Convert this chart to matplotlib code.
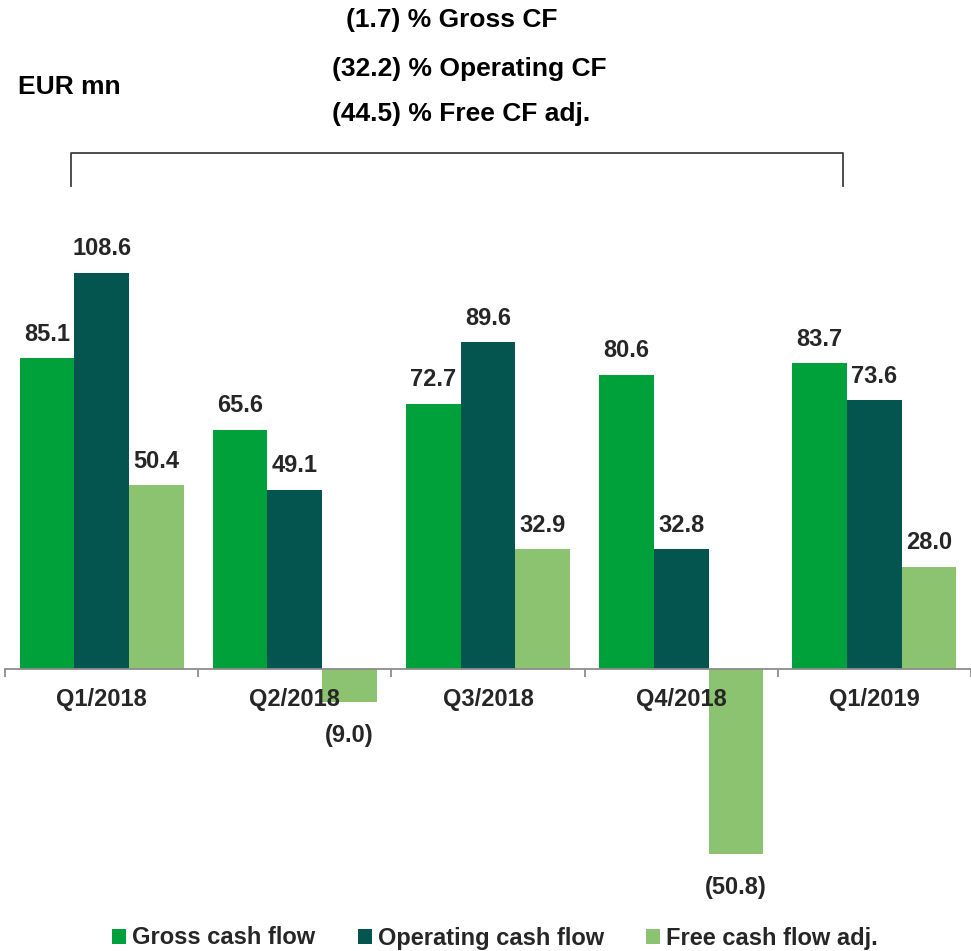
import matplotlib.pyplot as plt
import numpy as np

# ------------------------------------------------------------------
#  DATA
# ------------------------------------------------------------------
quarters   = ['Q1/2018', 'Q2/2018', 'Q3/2018', 'Q4/2018', 'Q1/2019']
gross_cf   = [85.1, 65.6, 72.7, 80.6, 83.7]
operating  = [108.6, 49.1, 89.6, 32.8, 73.6]
free_cf    = [50.4, -9.0, 32.9, -50.8, 28.0]
series     = ['Gross cash flow', 'Operating cash flow', 'Free cash flow adj.']
change_txt = ['(1.7) % Gross CF', '(32.2) % Operating CF', '(44.5) % Free CF adj.']

colors     = ['#00A03B', '#04544F', '#8BC371']
text_color = '#262626'

plt.rcParams['font.family'] = ['Liberation Sans', 'DejaVu Sans']
plt.rcParams['font.weight'] = 'bold'
fs = 17
fs_head = 19

W, H = 971, 951
fig = plt.figure(figsize=(W / 100, H / 100), dpi=100)

# axes placed in pixel terms: baseline at y=669, 3.65 px per unit
px_per_unit = 3.65
ax_top, ax_bot = 180, 900
ax_left, ax_right = 5, 971
ax = fig.add_axes([ax_left / W, 1 - ax_bot / H, (ax_right - ax_left) / W, (ax_bot - ax_top) / H])
ax.set_ylim(-(ax_bot - 669) / px_per_unit, (669 - ax_top) / px_per_unit)
ax.set_xlim(-0.5, -0.5 + (ax_right - ax_left) / 195.3)

x = np.arange(len(quarters))
bw = 0.283
for k, vals in enumerate([gross_cf, operating, free_cf]):
    pos = x + (k - 1) * bw
    ax.bar(pos, vals, width=bw, color=colors[k], label=series[k], zorder=1)
    for p, v in zip(pos, vals):
        if v >= 0:
            ax.text(p, v + 3.4, f'{v:.1f}', ha='center', va='bottom', fontsize=fs,
                    color=text_color, fontweight='bold', zorder=4)
        else:
            ax.text(p, v - 6, f'({abs(v):.1f})', ha='center', va='top', fontsize=fs,
                    color=text_color, fontweight='bold', zorder=4)

# axis styling
for s in ['left', 'right', 'top']:
    ax.spines[s].set_visible(False)
ax.spines['bottom'].set_position(('data', 0))
ax.spines['bottom'].set_color('#8c8c8c')
ax.spines['bottom'].set_linewidth(1.3)
ax.set_yticks([])
ax.set_xticks(x)
ax.set_xticklabels(quarters, fontsize=fs, color=text_color, fontweight='bold')
ax.tick_params(axis='x', which='major', length=0, pad=14)
ax.set_xticks(np.arange(-0.5, len(quarters) + 0.5, 1.0), minor=True)
ax.tick_params(axis='x', which='minor', length=6, width=1.3, color='#8c8c8c', direction='out')

# header texts
fig.text(18 / W, 1 - 87 / H, 'EUR mn', fontsize=fs_head, color='black', fontweight='bold',
         ha='left', va='center')
for txt, xc, yc in zip(change_txt, [452, 469, 461], [20, 69, 114]):
    fig.text(xc / W, 1 - yc / H, txt, fontsize=fs_head, color='black', fontweight='bold',
             ha='center', va='center')

# bracket
bx0, bx1, by0, by1 = 71 / W, 843 / W, 1 - 153 / H, 1 - 186 / H
fig.add_artist(plt.Line2D([bx0, bx0, bx1, bx1], [by1, by0, by0, by1],
                          color='#404040', linewidth=1.3))

# legend
leg = fig.legend(loc='center', bbox_to_anchor=(495 / W, 1 - 938 / H), ncol=3,
                 frameon=False, fontsize=fs, handlelength=0.6, handleheight=0.6,
                 handletextpad=0.25, columnspacing=1.8)
for t in leg.get_texts():
    t.set_color(text_color)
    t.set_fontweight('bold')

fig.savefig('out.png', dpi=100)
